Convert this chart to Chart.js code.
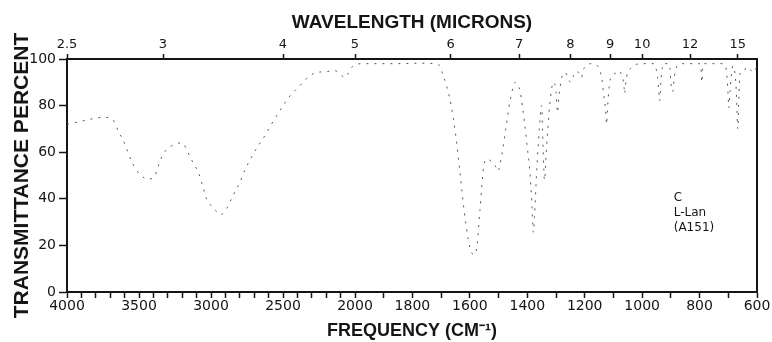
<!DOCTYPE html>
<html lang="en">
<head>
<meta charset="UTF-8">
<title>IR Spectrum - L-Lan</title>
<script src="https://cdn.jsdelivr.net/npm/chart.js"></script>
<style>
  body { margin: 0; background: #fff; }
  #wrap { width: 772px; height: 342px; }
</style>
</head>
<body>
<div id="wrap"><canvas id="irChart"></canvas></div>
<script>
// spectrum trace: frequency in cm-1, transmittance in percent
const frequency = [
  4000, 3950, 3900, 3850, 3800, 3750, 3700, 3670, 3644, 3613, 3580, 3551, 3520, 3493, 3460, 3435,
  3410, 3389, 3366, 3345, 3324, 3290, 3250, 3203, 3175, 3146, 3115, 3088, 3060, 3030, 3005, 2984,
  2960, 2938, 2920, 2890, 2850, 2800, 2760, 2717, 2680, 2637, 2580, 2520, 2460, 2400, 2361, 2320,
  2278, 2200, 2139, 2104, 2085, 2069, 2050, 2035, 2014, 1972, 1923, 1853, 1780, 1720, 1705, 1696,
  1680, 1665, 1650, 1635, 1620, 1605, 1598, 1584, 1575, 1565, 1552, 1540, 1525, 1511, 1503, 1490,
  1475, 1460, 1441, 1425, 1410, 1400, 1392, 1384, 1379, 1375, 1368, 1358, 1350, 1345, 1340, 1334,
  1322, 1309, 1300, 1295, 1290, 1280, 1274, 1267, 1258, 1249, 1240, 1232, 1218, 1211, 1206, 1195,
  1179, 1165, 1155, 1145, 1141, 1135, 1127, 1124, 1120, 1113, 1102, 1092, 1082, 1074, 1068, 1063,
  1061, 1057, 1051, 1040, 1033, 1020, 1005, 977, 960, 950, 946, 942, 939, 935, 930, 928,
  907, 903, 900, 896, 893, 889, 884, 875, 860, 830, 800, 795, 792, 789, 785, 750,
  720, 712, 708, 702, 698, 694, 690, 684, 678, 672, 667, 663, 660, 652, 645, 636,
  628, 620, 614, 607, 600
];
const transmittance = [
  72, 72.6, 73.3, 74, 74.6, 75, 74.6, 73, 69, 65.5, 60.5, 56, 52.5, 50.5, 48.8, 48.3,
  48.8, 50, 54, 57.5, 60, 62, 63.5, 64, 62, 58, 54.5, 51.3, 46, 39.7, 37.5, 36,
  34.5, 33.3, 33.5, 36, 41, 47, 53, 58, 62, 66, 72, 78, 83.5, 87.5, 90, 92.5,
  94, 94.6, 95, 93.5, 92.5, 92, 93.5, 95, 97, 98, 98, 98, 98.2, 98, 97, 94,
  88, 80, 68, 52, 35, 22, 18, 16, 20, 35, 53.6, 57, 56, 54, 51.8, 58,
  70, 82, 90, 86, 73, 62, 53, 38, 25.6, 32, 50, 70, 80, 62, 48, 60,
  80, 90, 86, 77, 84, 92, 94, 94, 92, 90, 92.5, 94.5, 94, 92, 95, 97,
  98, 97.8, 97, 94, 92, 86, 77.5, 72, 80, 90, 93, 94, 95, 94, 92, 88,
  85, 90, 94, 96, 97, 97.7, 98, 98, 98, 95, 92, 86, 82, 90, 96, 98,
  98, 96, 90, 87, 86, 91, 95, 97.5, 98, 98, 98, 96, 90, 96, 98, 98,
  98, 97.5, 96, 88, 79, 86, 92, 97, 95, 86, 70, 84, 93, 95, 95, 96.5,
  96, 95, 94, 95.5, 96
];

// bottom axis: labelled frequencies (ticks every 100 cm-1)
const freqLabels = [4000, 3500, 3000, 2500, 2000, 1800, 1600, 1400, 1200, 1000, 800, 600];
// top axis: wavelength in microns
const micronLabels = ['2.5', '3', '4', '5', '6', '7', '8', '9', '10', '12', '15'];
const transTicks = [0, 20, 40, 60, 80, 100];
const sampleNote = ['C', 'L-Lan', '(A151)'];

// grating charts switch scale at 2000 cm-1: the 4000-2000 part is compressed
const SCALE_BREAK = 2000;
const HIGH_SHARE = 288 / 690;

class WavenumberScale extends Chart.LinearScale {
  getPixelForValue(value) {
    let f;
    if (value >= SCALE_BREAK) {
      f = (this.max - value) / (this.max - SCALE_BREAK) * HIGH_SHARE;
    } else {
      f = HIGH_SHARE + (SCALE_BREAK - value) / (SCALE_BREAK - this.min) * (1 - HIGH_SHARE);
    }
    return this.getPixelForDecimal(f);
  }
  getValueForPixel(pixel) {
    const f = this.getDecimalForPixel(pixel);
    if (f <= HIGH_SHARE) {
      return this.max - f / HIGH_SHARE * (this.max - SCALE_BREAK);
    }
    return SCALE_BREAK - (f - HIGH_SHARE) / (1 - HIGH_SHARE) * (SCALE_BREAK - this.min);
  }
}
WavenumberScale.id = 'wavenumber';
WavenumberScale.defaults = Chart.LinearScale.defaults;
Chart.register(WavenumberScale);

const ink = '#151515';
const numFont = { family: 'DejaVu Sans', size: 14 };
const titleFont = { family: 'Liberation Sans', size: 19, weight: 'bold' };

const freqTicks = [];
for (let f = 4000; f >= 600; f -= 100) freqTicks.push(f);

// sample label in the lower right of the plot
const notePlugin = {
  id: 'sampleNote',
  afterDatasetsDraw(chart) {
    const { ctx, scales } = chart;
    ctx.save();
    ctx.font = '12px "DejaVu Sans"';
    ctx.fillStyle = ink;
    ctx.textBaseline = 'middle';
    sampleNote.forEach((line, i) => {
      ctx.fillText(line, scales.x.getPixelForValue(890), scales.y.getPixelForValue(40.5 - i * 6.5));
    });
    ctx.restore();
  }
};

new Chart(document.getElementById('irChart'), {
  type: 'line',
  data: {
    datasets: [{
      data: frequency.map((f, i) => ({ x: f, y: transmittance[i] })),
      borderColor: '#555',
      borderWidth: 1,
      borderDash: [2, 6],
      pointRadius: 0,
      cubicInterpolationMode: 'monotone'
    }]
  },
  options: {
    responsive: true,
    maintainAspectRatio: false,
    animation: false,
    layout: { padding: { left: 0, top: 0, right: 15, bottom: 0 } },
    plugins: { legend: { display: false }, tooltip: { enabled: false } },
    scales: {
      x: {
        type: 'wavenumber',
        position: 'bottom',
        min: 600,
        max: 4000,
        afterBuildTicks: s => { s.ticks = freqTicks.map(v => ({ value: v })); },
        afterFit: s => { s.height = 50; },
        ticks: {
          autoSkip: false,
          maxRotation: 0,
          padding: 0,
          color: ink,
          font: numFont,
          callback: v => freqLabels.includes(v) ? String(v) : ''
        },
        grid: { drawOnChartArea: false, tickLength: 6, tickWidth: 1.5, tickColor: ink },
        border: { color: ink, width: 2 },
        title: { display: true, text: 'FREQUENCY (CM\u207B\u00B9)', color: ink, font: { ...titleFont, size: 18 }, padding: { top: 0, bottom: 0 } }
      },
      x2: {
        type: 'wavenumber',
        position: 'top',
        min: 600,
        max: 4000,
        afterBuildTicks: s => { s.ticks = micronLabels.map(m => ({ value: 10000 / parseFloat(m) })); },
        afterFit: s => { s.height = 59; },
        ticks: {
          autoSkip: false,
          maxRotation: 0,
          padding: 2,
          color: ink,
          font: { family: 'DejaVu Sans', size: 13 },
          callback: (v, i) => micronLabels[i]
        },
        grid: { drawOnChartArea: false, tickLength: 5, tickWidth: 1.5, tickColor: ink },
        border: { color: ink, width: 2 },
        title: { display: true, text: 'WAVELENGTH (MICRONS)', color: ink, font: titleFont, padding: { top: 11, bottom: 0 } }
      },
      y: {
        position: 'left',
        min: 0,
        max: 100,
        afterBuildTicks: s => { s.ticks = transTicks.map(v => ({ value: v })); },
        afterFit: s => { s.width = 67; },
        ticks: { padding: 3, color: ink, font: numFont },
        grid: { drawOnChartArea: false, tickLength: 8, tickWidth: 1.5, tickColor: ink },
        border: { color: ink, width: 2 },
        title: { display: true, text: 'TRANSMITTANCE PERCENT', color: ink, font: { ...titleFont, size: 21 }, padding: { top: 10, bottom: 0 } }
      },
      y2: {
        position: 'right',
        min: 0,
        max: 100,
        afterFit: s => { s.width = 0; },
        ticks: { display: false },
        grid: { drawOnChartArea: false, drawTicks: false },
        border: { color: ink, width: 2 }
      }
    }
  },
  plugins: [notePlugin]
});
</script>
</body>
</html>
